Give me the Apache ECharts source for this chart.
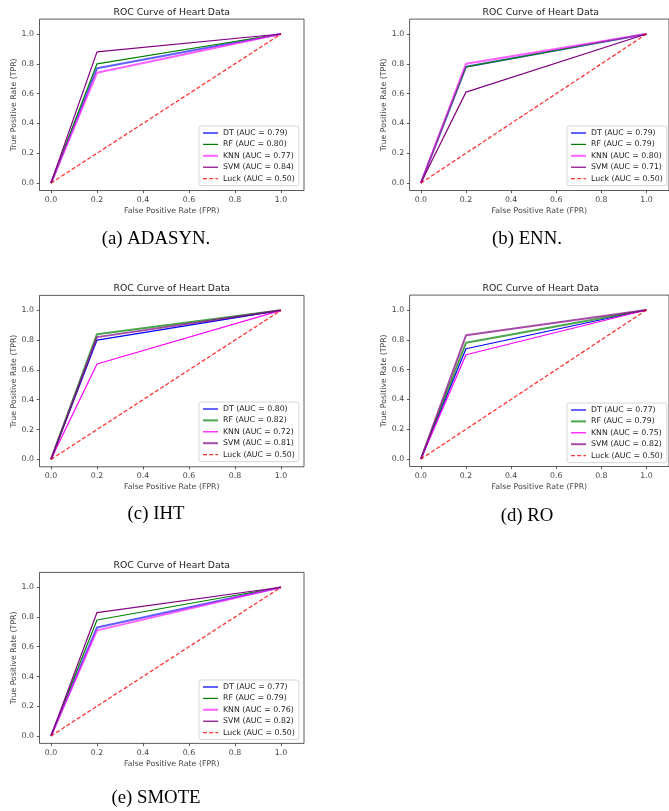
<!DOCTYPE html>
<html><head><meta charset="utf-8">
<script src="https://cdn.jsdelivr.net/npm/echarts@6/dist/echarts.min.js"></script>
<style>html,body{margin:0;padding:0;background:#fff}#c{width:669px;height:811px}</style>
</head><body><div id="c"></div>
<script>
const chartTitle = 'ROC Curve of Heart Data';
const xAxisName = 'False Positive Rate (FPR)';
const yAxisName = 'True Positive Rate (TPR)';
const tickValues = [0, 0.2, 0.4, 0.6, 0.8, 1.0];
const models = ['DT', 'RF', 'KNN', 'SVM'];
const fprPoints = [0, 0.2, 1];
const luckFPR = [0, 1];
const luckTPR = [0, 1];
const luckAUC = 0.50;
const captions = ['(a) ADASYN.', '(b) ENN.', '(c) IHT', '(d) RO', '(e) SMOTE'];

// AUC per model (DT, RF, KNN, SVM)
const aucADASYN = [0.79, 0.80, 0.77, 0.84];
const aucENN    = [0.79, 0.79, 0.80, 0.71];
const aucIHT    = [0.80, 0.82, 0.72, 0.81];
const aucRO     = [0.77, 0.79, 0.75, 0.82];
const aucSMOTE  = [0.77, 0.79, 0.76, 0.82];

// TPR per model at fprPoints (DT, RF, KNN, SVM)
const tprADASYN = [[0, 0.77, 1], [0, 0.80, 1], [0, 0.74, 1], [0, 0.88, 1]];
const tprENN    = [[0, 0.78, 1], [0, 0.78, 1], [0, 0.80, 1], [0, 0.61, 1]];
const tprIHT    = [[0, 0.80, 1], [0, 0.84, 1], [0, 0.64, 1], [0, 0.82, 1]];
const tprRO     = [[0, 0.74, 1], [0, 0.78, 1], [0, 0.70, 1], [0, 0.83, 1]];
const tprSMOTE  = [[0, 0.73, 1], [0, 0.78, 1], [0, 0.71, 1], [0, 0.83, 1]];

const panelAUC = [aucADASYN, aucENN, aucIHT, aucRO, aucSMOTE];
const panelTPR = [tprADASYN, tprENN, tprIHT, tprRO, tprSMOTE];

// ---- layout / style (not data) ----
const grids = [
  {left: 39.5, top: 19.1, width: 264.5, height: 171.4},
  {left: 409.6, top: 19.1, width: 262.2, height: 171.4},
  {left: 39.5, top: 295.4, width: 264.5, height: 171.4},
  {left: 409.6, top: 295.1, width: 262.2, height: 171.4},
  {left: 39.5, top: 572.4, width: 264.5, height: 171.0}
];
const legendPos = [
  {left: 199, top: 126}, {left: 567, top: 126},
  {left: 199, top: 402}, {left: 567, top: 403},
  {left: 199, top: 680}
];
const captionPos = [[156, 239], [527, 239], [156, 514], [527, 516], [156, 798]];
const styleA = [
  {color: 'rgba(0,0,255,0.62)', width: 2},
  {color: '#008000', width: 1.2},
  {color: 'rgba(255,0,255,0.62)', width: 2},
  {color: '#800080', width: 1.2}
];
const styleB = [
  {color: '#0000ff', width: 1.2},
  {color: 'rgba(0,128,0,0.7)', width: 2},
  {color: '#ff00ff', width: 1.2},
  {color: 'rgba(128,0,128,0.7)', width: 2}
];
const panelStyle = [styleA, styleA, styleB, styleB, styleA];
const FONT = 'DejaVu Sans';

const chart = echarts.init(document.getElementById('c'), null, {renderer: 'canvas'});
const xAxes = [], yAxes = [], series = [], legends = [], graphics = [];
const fmt = v => Number(v).toFixed(1);

grids.forEach((g, p) => {
  xAxes.push({
    gridIndex: p, type: 'value', min: -0.05, max: 1.1,
    name: xAxisName, nameLocation: 'middle', nameGap: 16.5,
    nameTextStyle: {fontFamily: FONT, fontSize: 7.8, color: '#444'},
    axisLine: {show: false, onZero: false},
    axisTick: {show: true, inside: false, customValues: tickValues, length: 2.7, lineStyle: {color: '#333', width: 0.8}},
    axisLabel: {customValues: tickValues, formatter: fmt, margin: 5.5, fontFamily: FONT, fontSize: 7.8, color: '#444'},
    splitLine: {show: false}
  });
  yAxes.push({
    gridIndex: p, type: 'value', min: -0.05, max: 1.1,
    name: yAxisName, nameLocation: 'middle', nameGap: 21,
    nameTextStyle: {fontFamily: FONT, fontSize: 7.8, color: '#444'},
    axisLine: {show: false, onZero: false},
    axisTick: {show: true, inside: false, customValues: tickValues, length: 2.7, lineStyle: {color: '#333', width: 0.8}},
    axisLabel: {customValues: tickValues, formatter: fmt, margin: 5.5, fontFamily: FONT, fontSize: 7.8, color: '#444'},
    splitLine: {show: false}
  });
  const names = [];
  models.forEach((m, i) => {
    const nm = p + '|' + m + ' (AUC = ' + panelAUC[p][i].toFixed(2) + ')';
    names.push(nm);
    const st = panelStyle[p][i];
    series.push({
      type: 'line', name: nm, xAxisIndex: p, yAxisIndex: p,
      data: fprPoints.map((x, k) => [x, panelTPR[p][i][k]]),
      symbol: 'none', silent: true,
      lineStyle: {color: st.color, width: st.width},
      itemStyle: {color: st.color}
    });
  });
  const luckName = p + '|Luck (AUC = ' + luckAUC.toFixed(2) + ')';
  names.push(luckName);
  series.push({
    type: 'line', name: luckName, xAxisIndex: p, yAxisIndex: p,
    data: luckFPR.map((x, k) => [x, luckTPR[k]]),
    symbol: 'none', silent: true,
    lineStyle: {color: 'rgba(255,0,0,0.8)', width: 1.3, type: [4, 2.2]},
    itemStyle: {color: 'rgba(255,0,0,0.8)'}
  });
  legends.push({
    data: names, orient: 'vertical', left: legendPos[p].left, top: legendPos[p].top,
    formatter: n => n.split('|')[1],
    itemWidth: 15, itemHeight: 8, itemGap: 3.4, padding: [3, 4, 3, 3],
    backgroundColor: 'rgba(255,255,255,0.85)', borderColor: '#cccccc', borderWidth: 0.8, borderRadius: 2,
    textStyle: {fontFamily: FONT, fontSize: 7.8, color: '#222', lineHeight: 8},
    itemStyle: {opacity: 0, color: 'rgba(0,0,0,0)', borderWidth: 0},
    lineStyle: {width: 'inherit'},
    selectedMode: false
  });
  graphics.push({
    type: 'text', x: g.left + g.width / 2, y: g.top - 7,
    style: {text: chartTitle, font: '9.3px "DejaVu Sans"', fill: '#222', align: 'center', verticalAlign: 'middle'},
    silent: true
  });
  graphics.push({
    type: 'text', x: captionPos[p][0], y: captionPos[p][1],
    style: {text: captions[p], font: '18.8px "Liberation Serif"', fill: '#000', align: 'center', verticalAlign: 'middle'},
    silent: true
  });
});

chart.setOption({
  animation: false,
  backgroundColor: '#fff',
  grid: grids.map(g => Object.assign({show: true, borderColor: '#333', borderWidth: 0.8, backgroundColor: 'transparent'}, g)),
  xAxis: xAxes, yAxis: yAxes, series: series, legend: legends,
  graphic: {elements: graphics}
});
</script></body></html>
